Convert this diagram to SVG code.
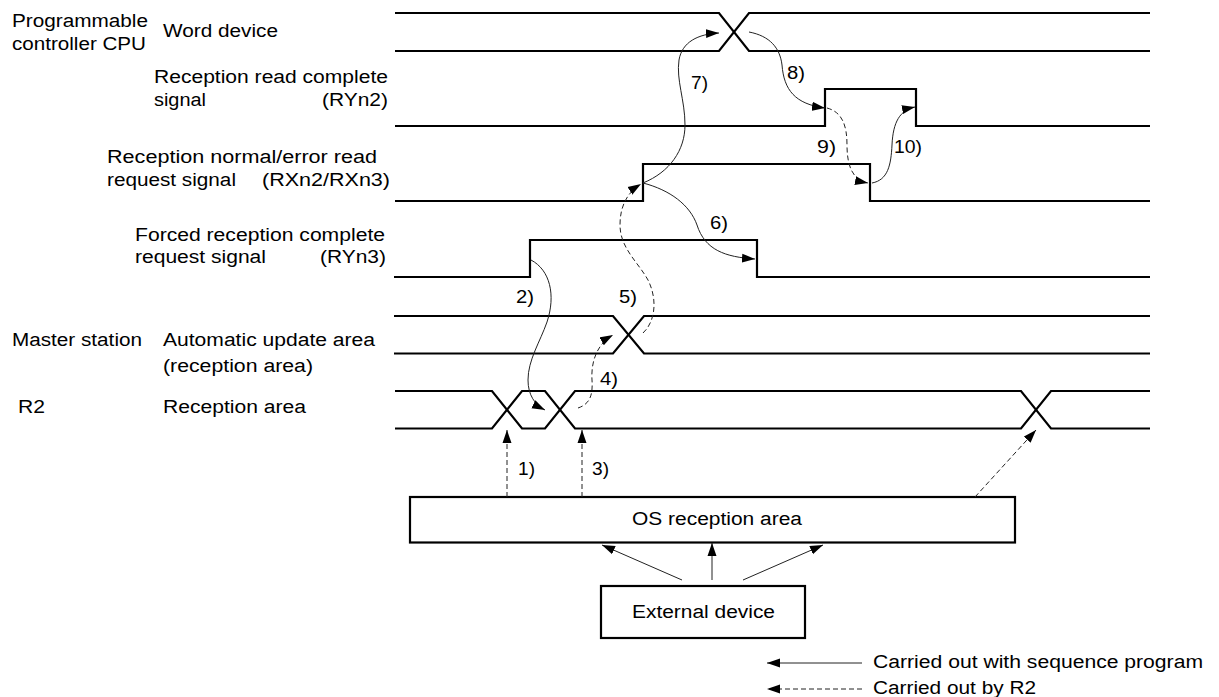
<svg xmlns="http://www.w3.org/2000/svg" width="1219" height="697" viewBox="0 0 1219 697">
<style>
text{font-family:"Liberation Sans",Arial,sans-serif;font-size:18px;fill:#000}
.sig{fill:none;stroke:#000;stroke-width:2.2;stroke-linejoin:miter}
.box{fill:#fff;stroke:#000;stroke-width:2.2}
.c{fill:none;stroke:#222;stroke-width:1}
.d{fill:none;stroke:#222;stroke-width:1;stroke-dasharray:5,3}
.a{marker-end:url(#ah)}
</style>
<defs>
<marker id="ah" markerWidth="14" markerHeight="10" refX="13" refY="5" orient="auto" markerUnits="userSpaceOnUse">
<path d="M0,0.5 L13,5 L0,9.5 Z" fill="#000"/>
</marker>
</defs>
<rect width="1219" height="697" fill="#fff"/>
<g id="labels">
<text x="12" y="27" textLength="136" lengthAdjust="spacingAndGlyphs">Programmable</text>
<text x="12" y="50" textLength="134" lengthAdjust="spacingAndGlyphs">controller CPU</text>
<text x="163" y="37" textLength="115" lengthAdjust="spacingAndGlyphs">Word device</text>
<text x="154" y="83" textLength="234" lengthAdjust="spacingAndGlyphs">Reception read complete</text>
<text x="154" y="106" textLength="52" lengthAdjust="spacingAndGlyphs">signal</text>
<text x="322" y="106" textLength="66" lengthAdjust="spacingAndGlyphs">(RYn2)</text>
<text x="107" y="163" textLength="270" lengthAdjust="spacingAndGlyphs">Reception normal/error read</text>
<text x="107" y="186" textLength="129" lengthAdjust="spacingAndGlyphs">request signal</text>
<text x="262" y="186" textLength="128" lengthAdjust="spacingAndGlyphs">(RXn2/RXn3)</text>
<text x="135" y="241" textLength="250" lengthAdjust="spacingAndGlyphs">Forced reception complete</text>
<text x="135" y="263" textLength="131" lengthAdjust="spacingAndGlyphs">request signal</text>
<text x="320" y="263" textLength="66" lengthAdjust="spacingAndGlyphs">(RYn3)</text>
<text x="12" y="346" textLength="130" lengthAdjust="spacingAndGlyphs">Master station</text>
<text x="163" y="346" textLength="212" lengthAdjust="spacingAndGlyphs">Automatic update area</text>
<text x="163" y="372" textLength="150" lengthAdjust="spacingAndGlyphs">(reception area)</text>
<text x="18" y="413" textLength="27" lengthAdjust="spacingAndGlyphs">R2</text>
<text x="163" y="413" textLength="143" lengthAdjust="spacingAndGlyphs">Reception area</text>
</g>
<g id="word-device">
<polyline class="sig" points="395,13 719,13 749,51 1150,51"/>
<polyline class="sig" points="395,51 719,51 749,13 1150,13"/>
</g>
<g id="ryn2">
<polyline class="sig" points="395,126 825,126 825,89 916,89 916,126 1150,126"/>
</g>
<g id="rxn2">
<polyline class="sig" points="395,201 643,201 643,164 870,164 870,201 1150,201"/>
</g>
<g id="ryn3">
<polyline class="sig" points="394,277 530,277 530,240 757,240 757,277 1150,277"/>
</g>
<g id="auto-update">
<polyline class="sig" points="394,316 613,316 644,353.5 1150,353.5"/>
<polyline class="sig" points="394,353.5 613,353.5 644,316 1150,316"/>
</g>
<g id="r2-reception">
<polyline class="sig" points="395,391 492,391 522,428.5 545,428.5 575,391 1021,391 1051,428.5 1150,428.5"/>
<polyline class="sig" points="395,428.5 492,428.5 522,391 545,391 575,428.5 1021,428.5 1051,391 1150,391"/>
</g>
<g id="os-reception">
<rect class="box" x="410" y="497" width="605" height="45.5"/>
<text x="632" y="525" textLength="170" lengthAdjust="spacingAndGlyphs">OS reception area</text>
</g>
<g id="external-device">
<rect class="box" x="601" y="586" width="204" height="52"/>
<text x="632" y="618" textLength="143" lengthAdjust="spacingAndGlyphs">External device</text>
</g>
<g id="connectors">
<path class="d a" d="M507,497 L507,430"/>
<path class="d a" d="M582,497 L582,430"/>
<path class="d a" d="M975,497 L1036,430"/>
<path class="c a" d="M712,580 L712,543"/>
<path class="c a" d="M682,580 L602,545"/>
<path class="c a" d="M743,580 L823,545"/>
<path class="c a" d="M531,260 C550,270 556,295 547,322 C540,342 528,360 528,380 C528,395 535,405 545,410"/>
<path class="d a" d="M578,408 C590,404 593,395 592,380 C591,365 595,345 613,335"/>
<path class="d a" d="M643,333 C655,322 658,300 648,280 C638,262 620,248 620,225 C620,205 628,192 641,184"/>
<path class="c a" d="M643,183 C670,190 690,205 697,225 C705,250 725,257 755,259"/>
<path class="c a" d="M643,183 C670,172 685,150 685,125 C685,100 676,80 679,60 C682,42 698,34 719,33"/>
<path class="c a" d="M749,32 C770,36 780,48 782,65 C784,90 795,104 825,108"/>
<path class="d a" d="M827,108 C842,112 847,125 847,145 C847,165 852,180 868,183"/>
<path class="c a" d="M872,183 C888,180 891,165 892,145 C893,122 900,110 915,107"/>
</g>
<g id="step-labels">
<text x="518" y="475" textLength="17" lengthAdjust="spacingAndGlyphs">1)</text>
<text x="516" y="303" textLength="18" lengthAdjust="spacingAndGlyphs">2)</text>
<text x="592" y="475" textLength="17" lengthAdjust="spacingAndGlyphs">3)</text>
<text x="600" y="385" textLength="18" lengthAdjust="spacingAndGlyphs">4)</text>
<text x="619" y="303" textLength="18" lengthAdjust="spacingAndGlyphs">5)</text>
<text x="710" y="229" textLength="18" lengthAdjust="spacingAndGlyphs">6)</text>
<text x="691" y="89" textLength="17" lengthAdjust="spacingAndGlyphs">7)</text>
<text x="787" y="79" textLength="18" lengthAdjust="spacingAndGlyphs">8)</text>
<text x="817" y="153" textLength="19" lengthAdjust="spacingAndGlyphs">9)</text>
<text x="894" y="153" textLength="28" lengthAdjust="spacingAndGlyphs">10)</text>
</g>
<g id="legend">
<path class="c a" d="M862,663 L767,663"/>
<path class="d a" d="M862,689 L767,689"/>
<text x="873" y="668" textLength="330" lengthAdjust="spacingAndGlyphs">Carried out with sequence program</text>
<text x="873" y="694" textLength="163" lengthAdjust="spacingAndGlyphs">Carried out by R2</text>
</g>
</svg>
